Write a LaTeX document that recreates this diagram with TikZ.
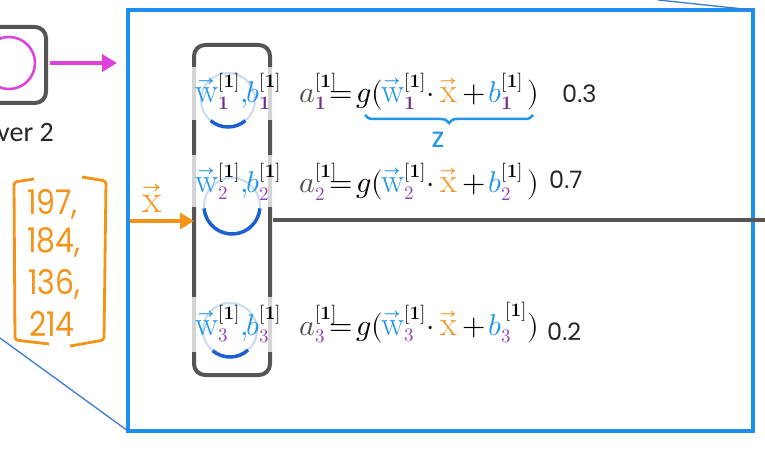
\documentclass[tikz,border=0pt]{standalone}
\usepackage{graphicx}
\usepackage{fontspec}
\usepackage{unicode-math}
\setmathfont{Latin Modern Math}
\DeclareMathSizes{30}{30}{19}{14}
\DeclareMathSizes{40}{40}{24}{18}
\newfontfamily\hand{Poppins}
\newfontfamily\labfont{Carlito}
\usetikzlibrary{decorations.pathreplacing,arrows.meta}
\definecolor{boxgray}{HTML}{555555}
\definecolor{magen}{HTML}{E040DC}
\definecolor{frameblue}{HTML}{1E8FF0}
\definecolor{thinblue}{HTML}{3A7BD5}
\definecolor{lightc}{HTML}{C9DAF2}
\definecolor{darkarc}{HTML}{1E5FCF}
\definecolor{orng}{HTML}{F39419}
\definecolor{wblue}{HTML}{2196E8}
\definecolor{subd}{HTML}{6A2A8E}
\definecolor{subp}{HTML}{8E44AD}
\definecolor{agray}{HTML}{505050}
\newcommand\bigw{\scalebox{1.15}{$\vec{\mathrm{w}}$}}
\newcommand\bigx{\scalebox{1.15}{$\vec{\mathrm{x}}$}}
\newcommand\wv[1]{{\color{wblue}\bigw}^{\mathbf{[1]}}_{#1}}
\newcommand\bv[1]{{\color{wblue}b}^{\mathbf{[1]}}_{#1}}
\newcommand\mrow[7]{%
  \node[mt,anchor=base west] (w#1) at (195,#2) {$\wv{#3}$};
  \node[mt,anchor=base west] (cm#1) at (240,#2) {$\color{wblue},$};
  \node[mt,anchor=base west] (b#1) at (246,#2) {$\bv{#3}$};
  \node[mt,anchor=base west] (a#1) at (299,#2) {${\color{agray}a}^{\mathbf{[1]}}_{#3}$};
  \node[mt,anchor=base west] (eq#1) at (329,#2) {$=$};
  \node[mt,anchor=base west] (g#1) at (356,#2) {$g($};
  \node[mt,anchor=base west] (ww#1) at (381,#2) {$\wv{#3}$};
  \node[mt,anchor=base west] (dt#1) at (426,#2) {$\cdot$};
  \node[mt,anchor=base west] (x#1) at (440,#2) {${\color{orng}\bigx}$};
  \node[mt,anchor=base west] (pl#1) at (462,#2) {$+$};
  \node[mt,anchor=base west] (bb#1) at (488,#2) {$#6$};
  \node[mt,anchor=base west] (rp#1) at (527,#2) {$)$};
  \node[numt,anchor=base west] (n#1) at (#5,#7) {#4};
}
\begin{document}
\begin{tikzpicture}[x=1pt,y=-1pt,
  mt/.style={inner sep=0pt,font=\fontsize{30}{34}\selectfont},
  numt/.style={inner sep=0pt,font=\hand\fontsize{24}{26}\selectfont,text=black!85},
  hnum/.style={inner sep=0pt,anchor=base west,font=\hand\fontsize{34}{36}\selectfont,text=orng},
  graybox/.style={draw=boxgray,line width=4pt,rounded corners=11pt,inner sep=0pt,outer sep=0pt},
  ring/.style={circle,draw=lightc,line width=2pt,inner sep=0pt,outer sep=0pt},
  darkring/.style={draw=darkarc,line width=3.5pt},
  veil/.style={fill=white,opacity=0.75},
  thinb/.style={draw=thinblue,line width=1.3pt}]
\useasboundingbox (0,0) rectangle (765,449);
\fill[white] (0,0) rectangle (765,449);

% thin blue zoom lines
\coordinate (zl) at (0,338);
\coordinate (zr) at (658,0);
% frame
\node[draw=frameblue,line width=4.5pt,minimum width=625pt,minimum height=421pt,inner sep=0pt,outer sep=0pt] (frame) at (440.5,220.5) {};
\draw[thinb] (zl) -- (frame.south west);
\draw[thinb] (zr) -- (frame.north east);

% layer 2 box
\node[graybox,minimum width=66pt,minimum height=76pt] (L2) at (13,65) {};
\node[circle,draw=magen,line width=2.5pt,minimum size=52pt,inner sep=0pt] (L2c) at (9,63) {};
\coordinate (fin) at (117,63);
\draw[magen,line width=4pt,-{Triangle[length=15pt,width=17pt]}] ([xshift=4pt,yshift=2pt]L2.east) -- (fin);
\node[inner sep=0pt,anchor=base east,font=\labfont\fontsize{28}{30}\selectfont,text=black!85] (lab) at (54,142) {ver 2};

% input vector
\draw[orng,line width=2.8pt,rounded corners=3pt] (34,179) -- (14,182) -- (15,340) -- (49,344);
\draw[orng,line width=2.8pt,rounded corners=3pt] (82,177) -- (106,181) -- (104,340) -- (70,346);
\node[hnum] (v1) at (27,214) {\scalebox{0.88}[1]{197,}};
\node[hnum] (v2) at (27,252) {\scalebox{0.88}[1]{184,}};
\node[hnum] (v3) at (28,294) {\scalebox{0.88}[1]{136,}};
\node[hnum] (v4) at (29,336) {\scalebox{0.88}[1]{214}};

% neuron column
\node[graybox,minimum width=76pt,minimum height=330pt] (neur) at (232,210) {};
\fill[veil] (186,67) rectangle (278,120);
\fill[veil] (186,155) rectangle (278,207);
\fill[veil] (186,297) rectangle (278,352);

\node[ring,minimum size=54pt] (c1) at (228,100) {};
\node[ring,minimum size=56pt] (c2) at (232,206) {};
\node[ring,minimum size=54pt] (c3) at (230,330) {};
\draw[darkring] (c1.230) arc[start angle=230,end angle=310,radius=27pt];
\draw[darkring] (c2.185) arc[start angle=185,end angle=355,radius=28pt];
\draw[darkring] (c3.230) arc[start angle=230,end angle=312,radius=27pt];

% connectors
\coordinate (xs) at (130,221);
\draw[orng,line width=4pt,-{Triangle[length=14pt,width=16pt]}] (xs) -- ([yshift=-11pt]neur.west);
\node[inner sep=0pt,anchor=base,font=\fontsize{40}{44}\selectfont] (xl) at (152,212) {${\color{orng}\vec{\mathrm{x}}}$};
\coordinate (re) at (765,220);
\draw[boxgray,line width=4pt] ([xshift=3pt,yshift=-10pt]neur.east) -- (re);

% rows
\mrow{1}{103}{{\color{subd}\mathbf{1}}}{0.3}{562}{\bv{{\color{subd}\mathbf{1}}}}{103}
\mrow{2}{193}{{\color{subp}2}}{0.7}{549}{\bv{{\color{subp}2}}}{189}
\mrow{3}{335}{{\color{subp}3}}{0.2}{547}{{\color{wblue}b}_{\color{subp}3}}{340}
\node[inner sep=0pt,anchor=base west,font=\fontsize{19}{22}\selectfont] (s3) at (505,316) {$\mathbf{[1]}$};

% brace z
\draw[wblue,line width=2.5pt,decorate,decoration={brace,mirror,amplitude=8pt}] (365,115) -- (533,115);
\node[inner sep=0pt,font=\hand\fontsize{28}{30}\selectfont,text=wblue] (z) at (438,140) {z};
\end{tikzpicture}
\end{document}
